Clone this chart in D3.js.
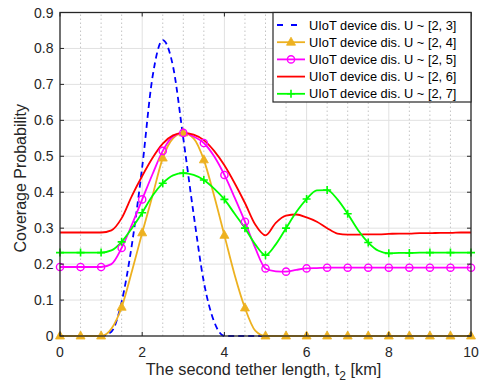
<!DOCTYPE html>
<html><head><meta charset="utf-8">
<script src="https://cdn.jsdelivr.net/npm/d3@7"></script>
<style>body{margin:0;background:#fff}svg{display:block}</style>
</head><body>
<script>
const xs = [0,0.25,0.5,0.75,1,1.25,1.5,1.75,2,2.25,2.5,2.75,3,3.25,3.5,3.75,4,4.25,4.5,4.75,5,5.25,5.5,5.75,6,6.25,6.5,6.75,7,7.25,7.5,7.75,8,8.25,8.5,8.75,9,9.25,9.5,9.75,10];
const u3 = [0,0,0,0,0,0.012,0.095,0.255,0.47,0.72,0.823,0.75,0.55,0.34,0.15,0.04,0,0,0,0,0,0,0,0,0,0,0,0,0,0,0,0,0,0,0,0,0,0,0,0,0];
const u4 = [0,0,0,0,0,0.02,0.08,0.18,0.287,0.39,0.495,0.55,0.565,0.55,0.49,0.39,0.28,0.17,0.078,0.015,0,0,0,0,0,0,0,0,0,0,0,0,0,0,0,0,0,0,0,0,0];
const u5 = [0.192,0.192,0.192,0.192,0.192,0.2,0.245,0.31,0.38,0.45,0.515,0.555,0.565,0.555,0.537,0.5,0.448,0.385,0.318,0.245,0.188,0.18,0.179,0.184,0.188,0.189,0.19,0.19,0.19,0.19,0.19,0.19,0.19,0.19,0.19,0.19,0.19,0.19,0.19,0.19,0.19];
const u6 = [0.288,0.288,0.288,0.288,0.288,0.294,0.328,0.39,0.445,0.495,0.535,0.558,0.565,0.56,0.545,0.515,0.475,0.425,0.37,0.31,0.28,0.315,0.335,0.338,0.33,0.318,0.3,0.285,0.282,0.282,0.283,0.283,0.284,0.285,0.285,0.286,0.286,0.287,0.287,0.288,0.288];
const u7 = [0.232,0.232,0.232,0.232,0.232,0.238,0.262,0.3,0.343,0.39,0.425,0.447,0.453,0.448,0.434,0.41,0.38,0.34,0.3,0.255,0.225,0.255,0.3,0.345,0.381,0.405,0.406,0.38,0.34,0.295,0.26,0.237,0.23,0.231,0.231,0.232,0.232,0.232,0.232,0.232,0.232];
const seriesNames = ["UIoT device dis. U ~ [2, 3]","UIoT device dis. U ~ [2, 4]","UIoT device dis. U ~ [2, 5]","UIoT device dis. U ~ [2, 6]","UIoT device dis. U ~ [2, 7]"];
const seriesColors = ["#0000ff","#edb120","#ff00ff","#ff0000","#00ff00"];
const seriesMarkers = ["none","triangle","circle","none","plus"];
const xTicks = [0,2,4,6,8,10];
const yTicks = [0,0.1,0.2,0.3,0.4,0.5,0.6,0.7,0.8,0.9];

const W=482,H=383, m={l:60,r:11,t:12.5,b:47};
const svg=d3.select("body").append("svg").attr("width",W).attr("height",H)
  .style("font-family","'Liberation Sans',Arial,sans-serif");
const x=d3.scaleLinear().domain([0,10]).range([m.l,W-m.r]);
const y=d3.scaleLinear().domain([0,0.9]).range([H-m.b,m.t]);
const series=[u3,u4,u5,u6,u7];

// grid
const g=svg.append("g");
g.selectAll(".hg").data(yTicks.slice(1,-1)).join("line")
 .attr("x1",x(0)).attr("x2",x(10)).attr("y1",d=>y(d)).attr("y2",d=>y(d))
 .attr("stroke","#e1e1e1").attr("stroke-width",1);
const minor=d3.range(0.5,10,0.5).filter(v=>v%2!==0);
g.selectAll(".mg").data(minor).join("line")
 .attr("x1",d=>x(d)).attr("x2",d=>x(d)).attr("y1",y(0)).attr("y2",y(0.9))
 .attr("stroke","#c4c4c4").attr("stroke-width",1).attr("stroke-dasharray","1.5,2.5");
g.selectAll(".vg").data(xTicks.slice(1,-1)).join("line")
 .attr("x1",d=>x(d)).attr("x2",d=>x(d)).attr("y1",y(0)).attr("y2",y(0.9))
 .attr("stroke","#e1e1e1").attr("stroke-width",1);

// lines
const line=d3.line().x(d=>x(d[0])).y(d=>y(d[1])).curve(d3.curveMonotoneX);
series.forEach((s,i)=>{
  const pts=xs.map((v,j)=>[v,s[j]]);
  svg.append("path").datum(pts).attr("d",line).attr("fill","none")
   .attr("stroke",seriesColors[i]).attr("stroke-width",1.8)
   .attr("stroke-dasharray",i===0?"6,4":null);
});
function marker(sel,type,color){
  if(type==="triangle"){
    sel.append("path").attr("d","M0,-5L4.5,3L-4.5,3Z").attr("fill",color).attr("stroke",color).attr("stroke-width",0.8);
  } else if(type==="circle"){
    sel.append("circle").attr("r",3.6).attr("fill","none").attr("stroke",color).attr("stroke-width",1.4);
  } else if(type==="plus"){
    sel.append("path").attr("d","M-4,0H4M0,-4V4").attr("stroke",color).attr("stroke-width",1.6);
  }
}
series.forEach((s,i)=>{
  if(seriesMarkers[i]==="none")return;
  xs.forEach((v,j)=>{
    if(Math.abs(v*2-Math.round(v*2))>1e-9)return;
    const mg=svg.append("g").attr("transform",`translate(${x(v)},${y(s[j])})`);
    marker(mg,seriesMarkers[i],seriesColors[i]);
  });
});

// axes box
const ax="#262626";
svg.append("rect").attr("x",x(0)).attr("y",y(0.9)).attr("width",x(10)-x(0)).attr("height",y(0)-y(0.9))
 .attr("fill","none").attr("stroke",ax).attr("stroke-width",1.3);
xTicks.forEach(t=>{
  svg.append("line").attr("x1",x(t)).attr("x2",x(t)).attr("y1",y(0)).attr("y2",y(0)-4).attr("stroke",ax);
  svg.append("line").attr("x1",x(t)).attr("x2",x(t)).attr("y1",y(0.9)).attr("y2",y(0.9)+4).attr("stroke",ax);
  svg.append("text").attr("x",x(t)).attr("y",y(0)+20.5).attr("text-anchor","middle")
   .attr("font-size",14).attr("fill","#262626").text(t);
});
yTicks.forEach(t=>{
  svg.append("line").attr("x1",x(0)).attr("x2",x(0)+4).attr("y1",y(t)).attr("y2",y(t)).attr("stroke",ax);
  svg.append("line").attr("x1",x(10)).attr("x2",x(10)-4).attr("y1",y(t)).attr("y2",y(t)).attr("stroke",ax);
  svg.append("text").attr("x",x(0)-6.5).attr("y",y(t)+5).attr("text-anchor","end")
   .attr("font-size",14).attr("fill","#262626").text(t);
});
// axis labels
const xl=svg.append("text").attr("x",(x(0)+x(10))/2-2).attr("y",375).attr("text-anchor","middle")
 .attr("font-size",16.3).attr("fill","#262626");
xl.append("tspan").text("The second tether length, t");
xl.append("tspan").attr("font-size",12).attr("dy",4.5).text("2");
xl.append("tspan").attr("dy",-4.5).text(" [km]");
svg.append("text").attr("transform",`translate(25.5,${(y(0)+y(0.9))/2+4}) rotate(-90)`)
 .attr("text-anchor","middle").attr("font-size",16).attr("fill","#262626").text("Coverage Probability");

// legend
const lx=273, ly=y(0.9), lw=x(10)-lx, lh=89.5;
svg.append("rect").attr("x",lx).attr("y",ly).attr("width",lw).attr("height",lh)
 .attr("fill","#fff").attr("stroke",ax).attr("stroke-width",1.2);
seriesNames.forEach((n,i)=>{
  const yy=ly+12.5+i*17.2;
  svg.append("line").attr("x1",lx+4).attr("x2",lx+32).attr("y1",yy).attr("y2",yy)
   .attr("stroke",seriesColors[i]).attr("stroke-width",1.8).attr("stroke-dasharray",i===0?"6,8":null);
  if(seriesMarkers[i]!=="none"){
    const mg=svg.append("g").attr("transform",`translate(${lx+18},${yy})`);
    marker(mg,seriesMarkers[i],seriesColors[i]);
  }
  svg.append("text").attr("x",lx+36).attr("y",yy+4.6).attr("font-size",12.8).attr("fill","#000").text(n);
});
</script>
</body></html>
